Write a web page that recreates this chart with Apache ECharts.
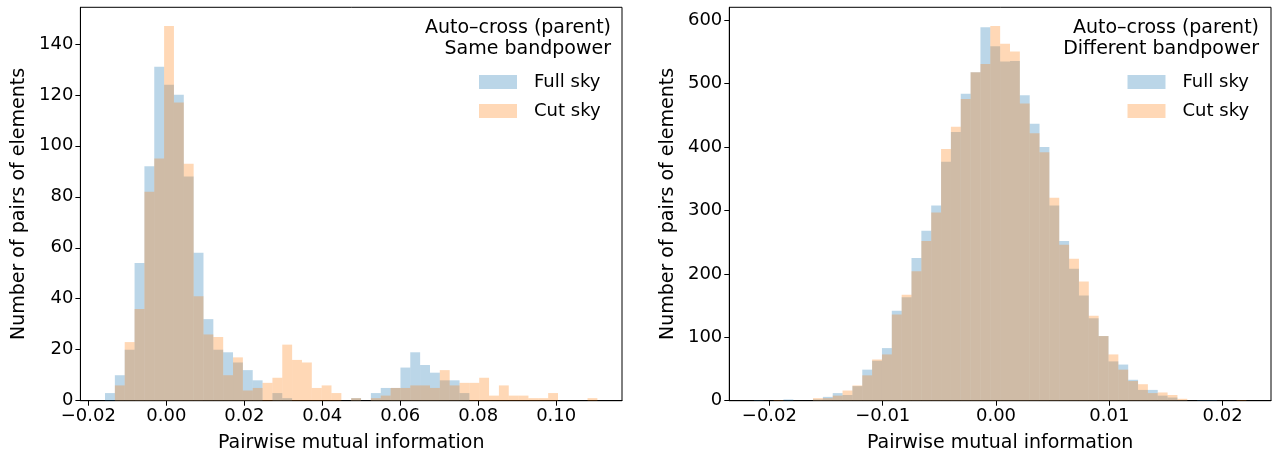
<!DOCTYPE html>
<html>
<head>
<meta charset="utf-8">
<script src="https://cdn.jsdelivr.net/npm/echarts@6/dist/echarts.min.js"></script>
<style>
html,body{margin:0;padding:0;background:#fff;}
#chart{width:1276px;height:458px;}
</style>
</head>
<body>
<div id="chart"></div>
<script>
// ---------- data ----------
// Left panel: "Same bandpower" histogram (50 shared bins)
const leftBinStart = -0.01572;
const leftBinWidth = 0.0025256;
const leftFullSky = [3,10,20,54,92,131,124,120,88,58,32,20,19,15,12,8,0,3,1,0,0,0,0,0,0,1,0,3,5,5,13,19,14,11,8,8,3,0,0,0,0,0,0,0,0,0,0,0,0,0];
const leftCutSky  = [0,6,23,36,82,95,147,117,93,41,26,25,10,17,4,5,7,9,22,16,15,5,6,3,0,1,0,1,2,5,5,6,6,5,12,6,7,7,9,2,6,2,2,1,1,3,0,0,0,1];

// Right panel: "Different bandpower" histogram (50 shared bins)
const rightBinStart = -0.021368;
const rightBinWidth = 0.00086937;
const rightFullSky = [1,0,0,2,0,0,2,6,12,9,23,49,63,83,142,163,225,268,308,377,424,484,518,589,559,535,536,482,437,400,308,252,208,166,130,102,62,57,33,17,17,8,5,1,0,1,1,0,0,0];
const rightCutSky  = [0,0,1,0,0,0,4,4,8,16,24,40,65,73,136,167,204,252,297,397,432,476,518,531,591,563,551,469,422,392,320,246,224,188,134,102,73,49,31,26,12,13,9,3,0,0,0,0,0,1];

const leftXTicks  = [-0.02, 0.00, 0.02, 0.04, 0.06, 0.08, 0.10];
const leftYTicks  = [0, 20, 40, 60, 80, 100, 120, 140];
const rightXTicks = [-0.02, -0.01, 0.00, 0.01, 0.02];
const rightYTicks = [0, 100, 200, 300, 400, 500, 600];

const seriesNames = ['Full sky', 'Cut sky'];
const panelTitles = ['Auto\u2013cross (parent)\nSame bandpower', 'Auto\u2013cross (parent)\nDifferent bandpower'];
const xLabel = 'Pairwise mutual information';
const yLabel = 'Number of pairs of elements';

// ---------- styling ----------
const FONT = 'DejaVu Sans';
const BLUE = 'rgba(31,119,180,0.3)';
const ORANGE = 'rgba(255,127,14,0.3)';

function toBins(start, width, counts) {
  return counts.map((c, i) => [start + i * width, start + (i + 1) * width, c]);
}
function fmtX(v) {
  const s = Math.abs(v).toFixed(2);
  return v < -1e-12 ? '\u2212' + s : s;
}
function renderBar(color) {
  return function (params, api) {
    const y = api.value(2);
    if (!y) return null;
    const p0 = api.coord([api.value(0), y]);
    const p1 = api.coord([api.value(1), 0]);
    return {
      type: 'rect',
      shape: { x: p0[0], y: p0[1], width: p1[0] - p0[0], height: p1[1] - p0[1] },
      style: { fill: color }
    };
  };
}

const grids = [
  { left: 80.4, right: 654, top: 7.3, bottom: 57.3 },
  { left: 729.3, right: 5, top: 7.3, bottom: 57.3 }
];

function xAxisCfg(gi, min, max, ticks) {
  return {
    type: 'value', gridIndex: gi, min: min, max: max,
    name: xLabel, nameLocation: 'middle', nameGap: 33,
    nameTextStyle: { fontFamily: FONT, fontSize: 19, color: '#000' },
    axisLine: { show: true, onZero: false, lineStyle: { color: '#000', width: 1 } },
    axisTick: { show: true, inside: false, length: 5, lineStyle: { color: '#000' }, customValues: ticks },
    axisLabel: { show: true, customValues: ticks, formatter: fmtX, fontFamily: FONT, fontSize: 18, color: '#000', margin: 7 },
    splitLine: { show: false }
  };
}
function yAxisCfg(gi, max, ticks, gap) {
  return {
    type: 'value', gridIndex: gi, min: 0, max: max,
    name: yLabel, nameLocation: 'middle', nameGap: gap,
    nameTextStyle: { fontFamily: FONT, fontSize: 19, color: '#000' },
    axisLine: { show: true, onZero: false, lineStyle: { color: '#000', width: 1 } },
    axisTick: { show: true, inside: false, length: 5, lineStyle: { color: '#000' }, customValues: ticks },
    axisLabel: { show: true, customValues: ticks, fontFamily: FONT, fontSize: 18, color: '#000', margin: 7 },
    splitLine: { show: false }
  };
}

const leftRange = 50 * leftBinWidth, rightRange = 50 * rightBinWidth;
const option = {
  animation: false,
  backgroundColor: '#fff',
  grid: grids.map(g => Object.assign({ show: true, borderColor: '#000', borderWidth: 1, backgroundColor: 'transparent' }, g)),
  xAxis: [
    xAxisCfg(0, leftBinStart - 0.05 * leftRange, leftBinStart + 1.05 * leftRange, leftXTicks),
    xAxisCfg(1, rightBinStart - 0.05 * rightRange, rightBinStart + 1.05 * rightRange, rightXTicks)
  ],
  yAxis: [
    yAxisCfg(0, 147 * 1.05, leftYTicks, 52),
    yAxisCfg(1, 591 * 1.05, rightYTicks, 52)
  ],
  legend: [0, 1].map(i => ({
    orient: 'vertical', left: i === 0 ? 479 : 1127.5, top: 72, padding: 0,
    itemWidth: 38, itemHeight: 14, itemGap: 9, icon: 'rect', selectedMode: false,
    textStyle: { fontFamily: FONT, fontSize: 18, color: '#000', lineHeight: 20, padding: [0, 0, 0, 12] },
    data: [
      { name: seriesNames[0], itemStyle: { color: BLUE } },
      { name: seriesNames[1], itemStyle: { color: ORANGE } }
    ]
  })),
  graphic: [0, 1].map(i => ({
    type: 'text', x: i === 0 ? 611 : 1259, y: 18,
    style: { text: panelTitles[i], fill: '#000', font: '19px "DejaVu Sans"', align: 'right', verticalAlign: 'top', lineHeight: 21 }
  })),
  series: [
    { type: 'custom', name: seriesNames[0], xAxisIndex: 0, yAxisIndex: 0, itemStyle: { color: BLUE }, renderItem: renderBar(BLUE), data: toBins(leftBinStart, leftBinWidth, leftFullSky), encode: { x: [0, 1], y: 2 } },
    { type: 'custom', name: seriesNames[1], xAxisIndex: 0, yAxisIndex: 0, itemStyle: { color: ORANGE }, renderItem: renderBar(ORANGE), data: toBins(leftBinStart, leftBinWidth, leftCutSky), encode: { x: [0, 1], y: 2 } },
    { type: 'custom', name: seriesNames[0], xAxisIndex: 1, yAxisIndex: 1, itemStyle: { color: BLUE }, renderItem: renderBar(BLUE), data: toBins(rightBinStart, rightBinWidth, rightFullSky), encode: { x: [0, 1], y: 2 } },
    { type: 'custom', name: seriesNames[1], xAxisIndex: 1, yAxisIndex: 1, itemStyle: { color: ORANGE }, renderItem: renderBar(ORANGE), data: toBins(rightBinStart, rightBinWidth, rightCutSky), encode: { x: [0, 1], y: 2 } }
  ]
};

const chart = echarts.init(document.getElementById('chart'), null, { renderer: 'canvas' });
chart.setOption(option);
</script>
</body>
</html>
